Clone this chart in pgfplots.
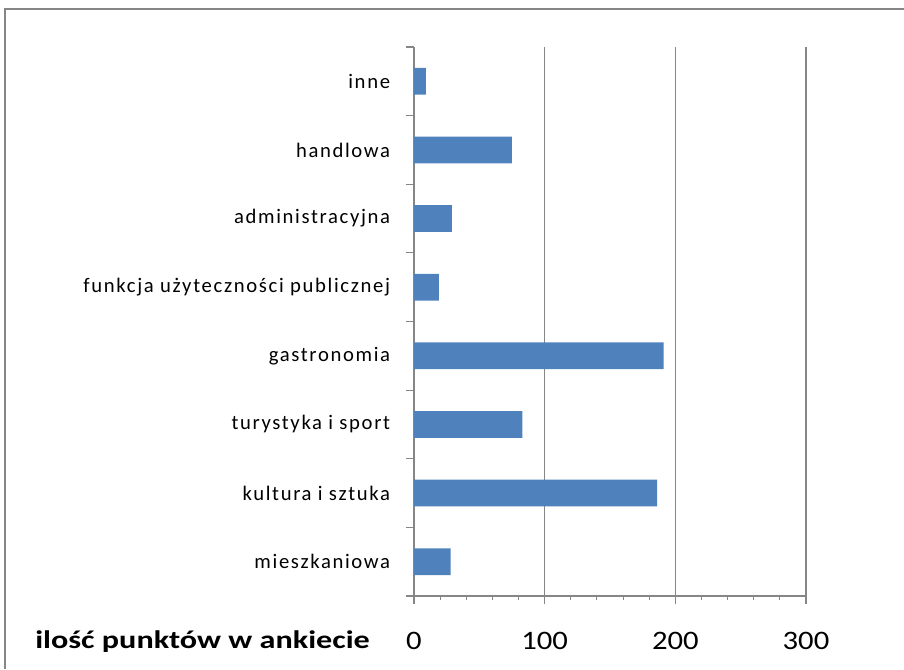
\documentclass[border=0pt]{standalone}
\usepackage{pgfplots}
\pgfplotsset{compat=1.18}
\usepackage{fontspec}
\setmainfont{Carlito}
\newfontfamily\tickfont[FakeStretch=1.15]{Carlito}
\newfontfamily\labfont[FakeStretch=1.27]{Carlito}
\newfontfamily\catfont[LetterSpace=8]{Carlito}
\definecolor{barblue}{HTML}{4F81BD}
\definecolor{axgray}{HTML}{868686}

\begin{document}
\begin{tikzpicture}
\useasboundingbox (0,0) rectangle (678pt,501.75pt);
\draw[axgray, line width=1.8pt] (3.75pt,0) -- (3.75pt,495pt) -- (678pt,495pt);
\begin{axis}[
  at={(310.5pt,54.75pt)}, anchor=south west,
  width=294pt, height=411.75pt, scale only axis,
  xbar, bar width=0.39,
  xmin=0, xmax=300,
  ymin=-0.5, ymax=7.5,
  axis x line*=bottom, axis y line*=left,
  axis line style={axgray, line width=1.1pt},
  xtick={0,100,200,300},
  minor x tick num=4,
  xmajorgrids, major grid style={axgray, line width=0.9pt},
  tick style={axgray, line width=0.8pt},
  tick align=outside,
  major tick length=6pt, minor tick length=3pt,
  /pgf/number format/assume math mode=true,
  xticklabel style={font=\tickfont\fontsize{20}{20}\selectfont, anchor=base, yshift=-34pt},
  ytick={-0.5,0.5,...,7.5},
  yticklabels={,,,,,,,,},
  extra y ticks={0,1,2,3,4,5,6,7},
  extra y tick labels={mieszkaniowa, kultura i sztuka, turystyka i sport, gastronomia,
    funkcja użyteczności publicznej, administracyjna, handlowa, inne},
  extra y tick style={major tick length=0pt},
  yticklabel style={font=\catfont\fontsize{15.5}{16}\selectfont, anchor=east, inner sep=0pt, xshift=-17.75pt},
]
\addplot[fill=barblue, draw=none] coordinates {
  (28,0) (186,1) (83,2) (191,3) (19,4) (29,5) (75,6) (9,7)
};
\end{axis}
\node[anchor=base west, inner sep=0pt, font=\labfont\bfseries\fontsize{19}{19}\selectfont] at (26.25pt,15.75pt) {ilość punktów w ankiecie};
\end{tikzpicture}
\end{document}
